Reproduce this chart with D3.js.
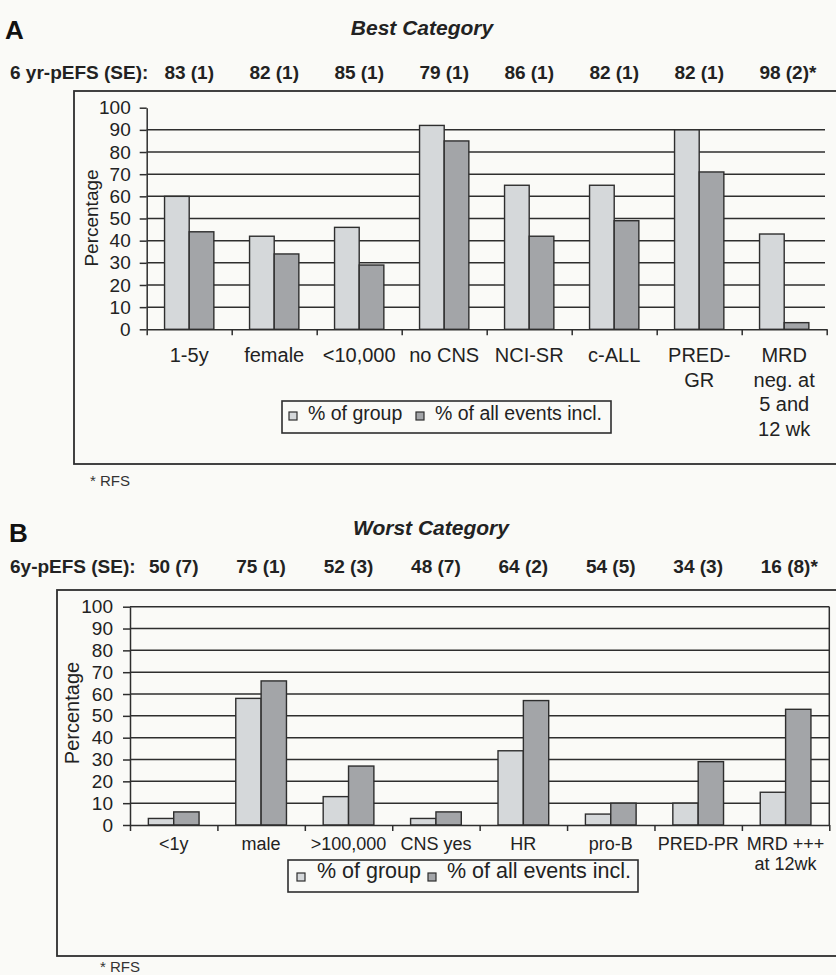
<!DOCTYPE html>
<html>
<head>
<meta charset="utf-8">
<script src="https://cdn.jsdelivr.net/npm/d3@7"></script>
<style>
  html, body { margin: 0; padding: 0; background: #fafaf7; }
  svg { display: block; font-family: "Liberation Sans", Arial, Helvetica, sans-serif; }
</style>
</head>
<body>
<svg id="chart" width="836" height="975"></svg>
<script>
// ---- Panel A: best category ----
const categoriesA = [["1-5y"], ["female"], ["<10,000"], ["no CNS"], ["NCI-SR"], ["c-ALL"], ["PRED-", "GR"], ["MRD", "neg. at", "5 and", "12 wk"]];
const groupPctA = [60, 42, 46, 92, 65, 65, 90, 43];
const eventPctA = [44, 34, 29, 85, 42, 49, 71, 3];
const pefsA = ["83 (1)", "82 (1)", "85 (1)", "79 (1)", "86 (1)", "82 (1)", "82 (1)", "98 (2)*"];

// ---- Panel B: worst category ----
const categoriesB = [["<1y"], ["male"], [">100,000"], ["CNS yes"], ["HR"], ["pro-B"], ["PRED-PR"], ["MRD +++", "at 12wk"]];
const groupPctB = [3, 58, 13, 3, 34, 5, 10, 15];
const eventPctB = [6, 66, 27, 6, 57, 10, 29, 53];
const pefsB = ["50 (7)", "75 (1)", "52 (3)", "48 (7)", "64 (2)", "54 (5)", "34 (3)", "16 (8)*"];

const yTicks = [0, 10, 20, 30, 40, 50, 60, 70, 80, 90, 100];
const seriesNames = ["% of group", "% of all events incl."];

const ink = "#2e2e2e";
const fills = ["#d5d8da", "#a3a5a8"];

const svg = d3.select("#chart");

function drawPanel(spec) {
  const g = svg.append("g");
  const n = spec.categories.length;

  // outer frame (runs past the right edge)
  g.append("rect")
    .attr("x", spec.frame.x).attr("y", spec.frame.y)
    .attr("width", 900).attr("height", spec.frame.b - spec.frame.y)
    .attr("fill", "none").attr("stroke", ink).attr("stroke-width", 1.8);

  // panel letter, title, survival row
  g.append("text").attr("x", spec.letter.x).attr("y", spec.letter.y)
    .attr("font-size", 26).attr("font-weight", "bold").attr("fill", "#111").text(spec.letter.text);
  g.append("text").attr("x", spec.title.x).attr("y", spec.title.y)
    .attr("text-anchor", "middle").attr("font-size", 21).attr("font-weight", "bold")
    .attr("font-style", "italic").attr("fill", "#222").text(spec.title.text);
  g.append("text").attr("x", 10).attr("y", spec.header.y)
    .attr("font-size", 19).attr("font-weight", "bold").attr("fill", "#222").text(spec.header.text);

  const x = d3.scaleBand().domain(d3.range(n)).range([spec.plot.x0, spec.plot.x1]);
  const bw = x.bandwidth();
  const xs = d3.scaleBand().domain([0, 1]).range([bw * 0.21, bw * 0.79]);
  const y = d3.scaleLinear().domain([0, 100]).range([spec.plot.yBot, spec.plot.yTop]);

  // survival estimates above each category
  spec.pefs.forEach((s, i) => {
    const main = s.replace("*", "");
    const cx = x(i) + bw / 2;
    const t = g.append("text").attr("x", cx).attr("y", spec.header.y)
      .attr("text-anchor", "middle").attr("font-size", 19).attr("font-weight", "bold")
      .attr("fill", "#222").text(main);
    if (s.endsWith("*")) {
      const w = t.node().getComputedTextLength();
      g.append("text").attr("x", cx + w / 2).attr("y", spec.header.y)
        .attr("font-size", 19).attr("font-weight", "bold").attr("fill", "#222").text("*");
    }
  });

  // horizontal gridlines
  g.append("g").selectAll("line").data(spec.gridValues).join("line")
    .attr("x1", spec.plot.x0).attr("x2", spec.gridRight)
    .attr("y1", d => y(d)).attr("y2", d => y(d))
    .attr("stroke", ink).attr("stroke-width", 1.5);

  if (spec.border) {
    g.append("line")
      .attr("x1", spec.gridRight).attr("x2", spec.gridRight)
      .attr("y1", y(100)).attr("y2", y(0))
      .attr("stroke", ink).attr("stroke-width", 1.5);
  }

  // bars
  const seriesVals = [spec.group, spec.events];
  seriesVals.forEach((vals, si) => {
    g.append("g").selectAll("rect").data(vals).join("rect")
      .attr("x", (d, i) => x(i) + xs(si))
      .attr("y", d => y(d))
      .attr("width", xs.bandwidth())
      .attr("height", d => y(0) - y(d))
      .attr("fill", fills[si])
      .attr("stroke", ink).attr("stroke-width", 1.4);
  });

  // y axis
  const yAxis = g.append("g").attr("transform", `translate(${spec.plot.x0},0)`)
    .call(d3.axisLeft(y).tickValues(yTicks).tickSize(7).tickSizeOuter(0)
      .tickPadding(spec.tickPad));
  yAxis.selectAll("path,line").attr("stroke", ink).attr("stroke-width", 1.5);
  yAxis.selectAll("text").attr("font-size", spec.tickFont).attr("fill", "#222")
    .attr("font-family", "Liberation Sans, Arial, sans-serif");

  // x axis with ticks at category boundaries
  const xb = d3.scaleLinear().domain([0, n]).range([spec.plot.x0, spec.plot.x1]);
  const xAxis = g.append("g").attr("transform", `translate(0,${y(0)})`)
    .call(d3.axisBottom(xb).tickValues(d3.range(n + 1)).tickSize(6).tickSizeOuter(0).tickFormat(""));
  xAxis.selectAll("path,line").attr("stroke", ink).attr("stroke-width", 1.5);

  // category labels
  spec.categories.forEach((lines, i) => {
    const t = g.append("text").attr("x", x(i) + bw / 2).attr("y", spec.catY)
      .attr("text-anchor", "middle").attr("font-size", spec.catFont).attr("fill", "#222");
    lines.forEach((ln, k) => {
      t.append("tspan").attr("x", x(i) + bw / 2).attr("y", spec.catY + k * spec.catLine).text(ln);
    });
  });

  // axis title
  g.append("text")
    .attr("transform", `translate(${spec.yTitle.x},${spec.yTitle.y}) rotate(-90)`)
    .attr("text-anchor", "middle").attr("font-size", spec.yTitle.font).attr("fill", "#222")
    .text("Percentage");

  // legend
  const L = spec.legend;
  g.append("rect").attr("x", L.x).attr("y", L.y).attr("width", L.w).attr("height", L.h)
    .attr("fill", "none").attr("stroke", ink).attr("stroke-width", 1.6);
  seriesNames.forEach((name, si) => {
    g.append("rect").attr("x", L.sw[si]).attr("y", L.swY).attr("width", 8).attr("height", 8)
      .attr("fill", fills[si]).attr("stroke", ink).attr("stroke-width", 1.2);
    g.append("text").attr("x", L.tx[si]).attr("y", L.ty)
      .attr("font-size", L.font).attr("fill", "#222").text(name);
  });

  // footnote
  g.append("text").attr("x", spec.rfs.x).attr("y", spec.rfs.y)
    .attr("font-size", 15).attr("fill", "#333").text("* RFS");
}

drawPanel({
  categories: categoriesA, group: groupPctA, events: eventPctA, pefs: pefsA,
  frame: { x: 74, y: 91, b: 464 },
  letter: { x: 5, y: 39, text: "A" },
  title: { x: 422, y: 35, text: "Best Category" },
  header: { y: 79, text: "6 yr-pEFS (SE):" },
  plot: { x0: 146.7, x1: 826.7, yTop: 107.7, yBot: 329.3 },
  gridValues: [10, 20, 30, 40, 50, 60, 70, 80, 90],
  gridRight: 825, border: false,
  tickPad: 9, tickFont: 19,
  catY: 362, catFont: 20, catLine: 24.5,
  yTitle: { x: 98, y: 218, font: 19 },
  legend: { x: 282, y: 401, w: 329, h: 32, font: 19.5, sw: [289, 416], tx: [308, 435], ty: 420, swY: 412 },
  rfs: { x: 90, y: 486 }
});

drawPanel({
  categories: categoriesB, group: groupPctB, events: eventPctB, pefs: pefsB,
  frame: { x: 57, y: 590, b: 956 },
  letter: { x: 9, y: 542, text: "B" },
  title: { x: 431, y: 535, text: "Worst Category" },
  header: { y: 573, text: "6y-pEFS (SE):" },
  plot: { x0: 130, x1: 829.3, yTop: 606.7, yBot: 825 },
  gridValues: [10, 20, 30, 40, 50, 60, 70, 80, 90, 100],
  gridRight: 829.3, border: true,
  tickPad: 10, tickFont: 19,
  catY: 850, catFont: 18, catLine: 20,
  yTitle: { x: 79, y: 713, font: 20 },
  legend: { x: 288, y: 860, w: 350, h: 32, font: 21.5, sw: [297, 428], tx: [317, 447], ty: 878, swY: 873 },
  rfs: { x: 100, y: 972 }
});
</script>
</body>
</html>
